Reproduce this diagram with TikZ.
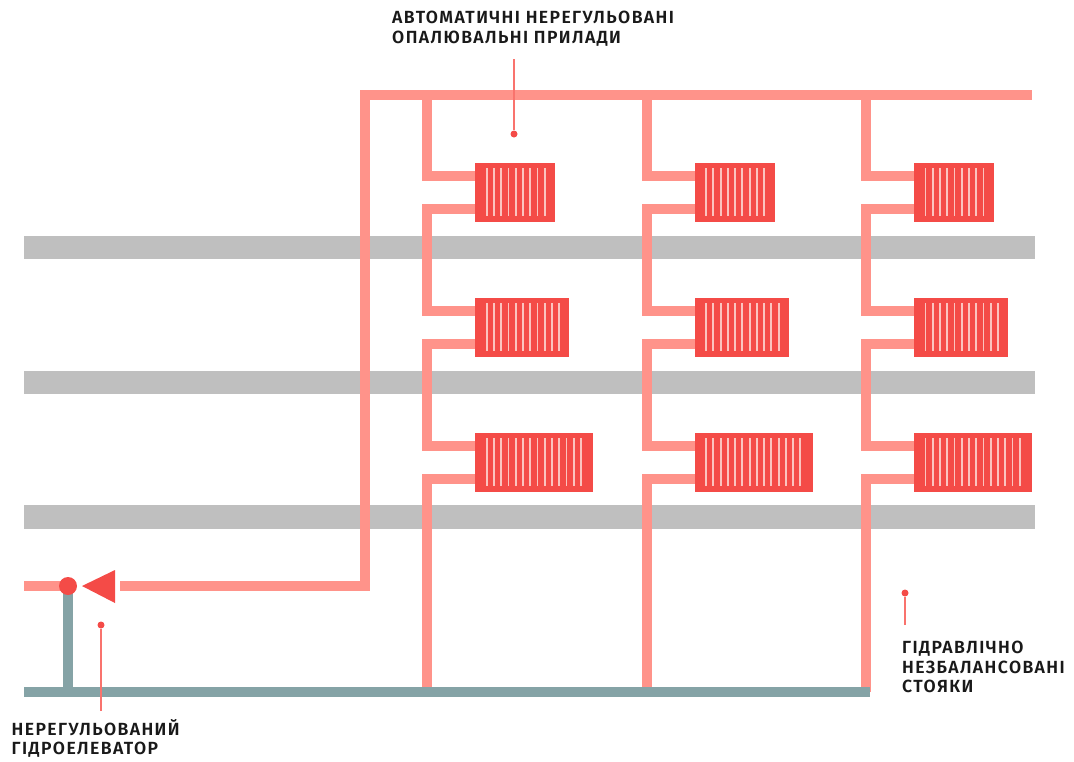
\documentclass[tikz,border=0pt]{standalone}
\usepackage{fontspec}
\newfontfamily\labfont[LetterSpace=8]{Fira Sans}[BoldFont={Fira Sans SemiBold}]
\usetikzlibrary{backgrounds}
\definecolor{pipe}{HTML}{FF938A}
\definecolor{rad}{HTML}{F44B47}
\definecolor{slab}{HTML}{BFBFBF}
\definecolor{cold}{HTML}{85A3A6}
\definecolor{rib}{HTML}{FBC4BF}
\definecolor{lead}{HTML}{F9736D}
\tikzset{
  hotpipe/.style={draw=pipe,line width=10pt,line join=miter},
  coldpipe/.style={draw=cold,line width=10pt},
  radbox/.style={rectangle,fill=rad,draw=none,inner sep=0pt,anchor=north west,minimum height=59pt},
  ribline/.style={draw=rib,line width=1.8pt},
  leaderdot/.style={circle,fill=rad,draw=none,inner sep=0pt,minimum size=7pt},
  leaderline/.style={draw=lead,line width=1.2pt},
  caption/.style={align=left,anchor=north west,inner sep=0pt,text=black!90,font=\labfont\bfseries\fontsize{17.6}{19.6}\selectfont},
}
\begin{document}
\begin{tikzpicture}[x=1pt,y=-1pt]
\useasboundingbox (0,0) rectangle (1074,761);
% radiators
\foreach \col/\xr/\xp in {1/475/427,2/694.3/646.5,3/913.7/866}{
  \coordinate (t\col) at (\xp,95);
  \coordinate (b\col) at (\xp,692);
  \foreach \lvl/\yr/\radw/\nrib in {1/163/80/9,2/298/94/11,3/433/118/14}{
    \node[radbox,minimum width=\radw pt] (r\col-\lvl) at (\xr,\yr) {};
    \foreach \i in {1,...,\nrib}{
      \draw[ribline] ({\xr+11.8+(\i-1)*7.25},{\yr+5}) -- ++(0,48);
    }
  }
}
% elevator
\node[circle,fill=rad,draw=none,inner sep=0pt,minimum size=18pt] (elev) at (68,586) {};
\fill[rad] (82,586) -- (115,570) -- (115,603) -- cycle;
\coordinate (feed) at (120,586);
\coordinate (mainend) at (1032,95);
\coordinate (mainturn) at (365,95);
\coordinate (coldL) at (24,692);
\coordinate (coldR) at (870,692);
\coordinate (hotL) at (24,586);
\begin{scope}[on background layer]
  \fill[slab] (24,236) rectangle (1035,259);
  \fill[slab] (24,371) rectangle (1035,394);
  \fill[slab] (24,505) rectangle (1035,529);
  \foreach \col in {1,2,3}{
    \draw[hotpipe] (t\col) |- ([xshift=2pt,yshift=16.5pt]r\col-1.west);
    \draw[hotpipe] ([xshift=2pt,yshift=-16.5pt]r\col-1.west) -- ([yshift=-16.5pt]r\col-1.west -| t\col) |- ([xshift=2pt,yshift=16.5pt]r\col-2.west);
    \draw[hotpipe] ([xshift=2pt,yshift=-16.5pt]r\col-2.west) -- ([yshift=-16.5pt]r\col-2.west -| t\col) |- ([xshift=2pt,yshift=16.5pt]r\col-3.west);
    \draw[hotpipe] ([xshift=2pt,yshift=-16.5pt]r\col-3.west) -| (b\col);
  }
  \draw[hotpipe] (feed) -| (mainturn) -- (mainend);
  \draw[hotpipe] (hotL) -- (elev.center);
  \draw[coldpipe] (elev.center) -- (elev.center |- coldL);
  \draw[coldpipe] (coldL) -- (coldR);
\end{scope}
% leaders
\node[leaderdot] (d1) at (514,134) {};
\coordinate (e1) at (514,59);
\draw[leaderline] (e1) -- (d1);
\node[leaderdot] (d2) at (101,625) {};
\coordinate (e2) at (101,711);
\draw[leaderline] (e2) -- (d2);
\node[leaderdot] (d3) at (905,593) {};
\coordinate (e3) at (905,625);
\draw[leaderline] (e3) -- (d3);
% captions
\node[caption] (c1) at (392,11) {АВТОМАТИЧНІ НЕРЕГУЛЬОВАНІ\\ОПАЛЮВАЛЬНІ ПРИЛАДИ};
\node[caption] (c2) at (11.5,719) {НЕРЕГУЛЬОВАНИЙ\\ГІДРОЕЛЕВАТОР};
\node[caption] (c3) at (902,641) {ГІДРАВЛІЧНО\\НЕЗБАЛАНСОВАНІ\\СТОЯКИ};
\end{tikzpicture}
\end{document}
